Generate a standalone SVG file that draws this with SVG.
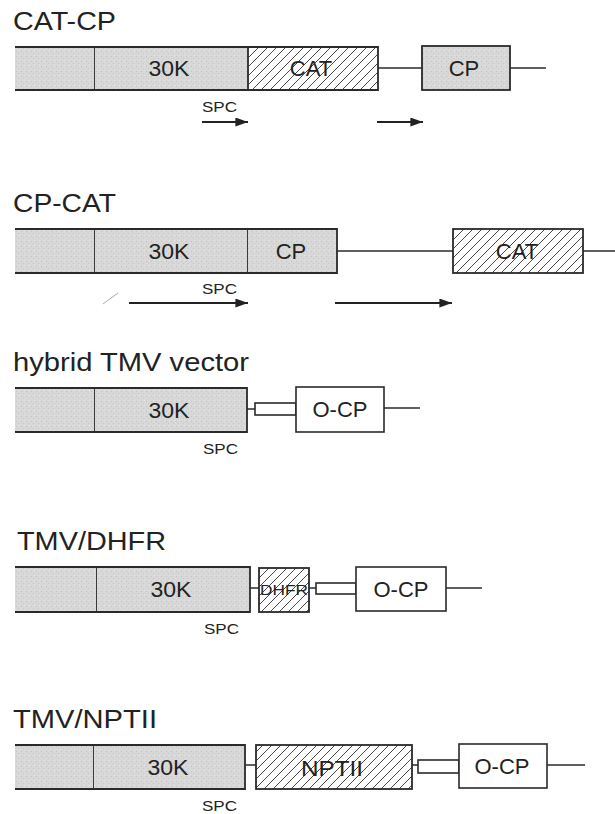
<svg xmlns="http://www.w3.org/2000/svg" width="615" height="814" viewBox="0 0 615 814">
<defs>
<pattern id="hatch" patternUnits="userSpaceOnUse" width="9" height="9">
<path d="M0,9 L9,0 M-1,1 L1,-1 M8,10 L10,8" stroke="#333" stroke-width="0.9"/>
</pattern>
<pattern id="stip" patternUnits="userSpaceOnUse" width="5" height="5">
<rect width="5" height="5" fill="#d8d8d8"/>
<rect x="1" y="1" width="1" height="1" fill="#c2c2c2"/>
<rect x="3" y="3" width="1" height="1" fill="#c8c8c8"/>
<rect x="4" y="0" width="1" height="1" fill="#e4e4e4"/>
</pattern>
<marker id="ah" viewBox="0 0 14 10" refX="14" refY="5" markerWidth="14" markerHeight="9" markerUnits="userSpaceOnUse" orient="auto">
<path d="M0,0 L14,5 L0,10 Z" fill="#222"/>
</marker>
<style>
.t{font-family:"Liberation Sans",Arial,sans-serif;fill:#222}
.title{font-size:26px}
.lbl{font-size:22px;text-anchor:middle}
.spc{font-size:14.5px}
.g{fill:url(#stip);stroke:none}
.h{fill:url(#hatch);stroke:none}
.w{fill:#fff;stroke:#2a2a2a;stroke-width:1.6}
.b{fill:none;stroke:#2a2a2a;stroke-width:1.8}
.c{fill:none;stroke:#2a2a2a;stroke-width:1.5}
.ar{fill:none;stroke:#222;stroke-width:2;marker-end:url(#ah)}
</style>
</defs>
<rect width="615" height="814" fill="#fff"/>

<!-- Row 1: CAT-CP -->
<text class="t title" x="13" y="30" textLength="103" lengthAdjust="spacingAndGlyphs">CAT-CP</text>
<g id="r1-5p">
<rect class="g" x="15" y="47" width="80" height="43"/>
<path class="b" d="M15,47 H95 V90 H15"/>
</g>
<g id="r1-30k">
<rect class="g" x="95" y="47" width="153" height="43"/>
<path class="b" d="M95,47 H248 V90 H95"/>
<text class="t lbl" x="169" y="76" textLength="41" lengthAdjust="spacingAndGlyphs">30K</text>
</g>
<g id="r1-cat">
<rect class="h" x="248" y="47" width="130" height="43"/>
<path class="b" d="M248,47 H378 V90 H248"/>
<text class="t lbl" x="311" y="76">CAT</text>
</g>
<g id="r1-cp">
<rect class="g" x="422" y="46" width="88" height="44"/>
<rect class="b" x="422" y="46" width="88" height="44"/>
<text class="t lbl" x="464" y="76">CP</text>
</g>
<text class="t spc" x="202" y="112" textLength="35" lengthAdjust="spacingAndGlyphs">SPC</text>

<!-- Row 2: CP-CAT -->
<text class="t title" x="13" y="212" textLength="103" lengthAdjust="spacingAndGlyphs">CP-CAT</text>
<g id="r2-5p">
<rect class="g" x="15" y="229" width="80" height="44"/>
<path class="b" d="M15,229 H95 V273 H15"/>
</g>
<g id="r2-30k">
<rect class="g" x="95" y="229" width="153" height="44"/>
<path class="b" d="M95,229 H248 V273 H95"/>
<text class="t lbl" x="169" y="259" textLength="41" lengthAdjust="spacingAndGlyphs">30K</text>
</g>
<g id="r2-cp">
<rect class="g" x="248" y="229" width="89" height="44"/>
<path class="b" d="M248,229 H337 V273 H248"/>
<text class="t lbl" x="291" y="259">CP</text>
</g>
<g id="r2-cat">
<rect class="h" x="453" y="229" width="130" height="44"/>
<rect class="b" x="453" y="229" width="130" height="44"/>
<text class="t lbl" x="517" y="259">CAT</text>
</g>
<text class="t spc" x="202" y="294" textLength="35" lengthAdjust="spacingAndGlyphs">SPC</text>

<!-- Row 3: hybrid TMV vector -->
<text class="t title" x="13" y="371" textLength="236" lengthAdjust="spacingAndGlyphs">hybrid TMV vector</text>
<g id="r3-5p">
<rect class="g" x="15" y="388" width="80" height="44"/>
<path class="b" d="M15,388 H95 V432 H15"/>
</g>
<g id="r3-30k">
<rect class="g" x="95" y="388" width="152" height="44"/>
<path class="b" d="M95,388 H247 V432 H95"/>
<text class="t lbl" x="169" y="418" textLength="41" lengthAdjust="spacingAndGlyphs">30K</text>
</g>
<g id="r3-link">
<rect class="w" x="255" y="403" width="41" height="12"/>
</g>
<g id="r3-ocp">
<rect class="w" x="296" y="387" width="88" height="45"/>
<text class="t lbl" x="340" y="417">O-CP</text>
</g>
<text class="t spc" x="203" y="454" textLength="35" lengthAdjust="spacingAndGlyphs">SPC</text>

<!-- Row 4: TMV/DHFR -->
<text class="t title" x="17" y="550" textLength="149" lengthAdjust="spacingAndGlyphs">TMV/DHFR</text>
<g id="r4-5p">
<rect class="g" x="15" y="567" width="82" height="45"/>
<path class="b" d="M15,567 H97 V612 H15"/>
</g>
<g id="r4-30k">
<rect class="g" x="97" y="567" width="153" height="45"/>
<path class="b" d="M97,567 H250 V612 H97"/>
<text class="t lbl" x="171" y="597" textLength="41" lengthAdjust="spacingAndGlyphs">30K</text>
</g>
<g id="r4-dhfr">
<rect class="h" x="259" y="568" width="50" height="44"/>
<rect class="b" x="259" y="568" width="50" height="44"/>
<text class="t" x="260" y="595" font-size="15" textLength="48" lengthAdjust="spacingAndGlyphs">DHFR</text>
</g>
<g id="r4-link">
<rect class="w" x="316" y="583" width="40" height="11"/>
</g>
<g id="r4-ocp">
<rect class="w" x="356" y="567" width="90" height="44"/>
<text class="t lbl" x="401" y="597">O-CP</text>
</g>
<text class="t spc" x="204" y="634" textLength="35" lengthAdjust="spacingAndGlyphs">SPC</text>

<!-- Row 5: TMV/NPTII -->
<text class="t title" x="13" y="728" textLength="144" lengthAdjust="spacingAndGlyphs">TMV/NPTII</text>
<g id="r5-5p">
<rect class="g" x="15" y="745" width="79" height="44"/>
<path class="b" d="M15,745 H94 V789 H15"/>
</g>
<g id="r5-30k">
<rect class="g" x="94" y="745" width="151" height="44"/>
<path class="b" d="M94,745 H245 V789 H94"/>
<text class="t lbl" x="168" y="775" textLength="41" lengthAdjust="spacingAndGlyphs">30K</text>
</g>
<g id="r5-nptii">
<rect class="h" x="256" y="745" width="156" height="44"/>
<rect class="b" x="256" y="745" width="156" height="44"/>
<text class="t lbl" x="332" y="776" font-size="23" textLength="62" lengthAdjust="spacingAndGlyphs">NPTII</text>
</g>
<g id="r5-link">
<rect class="w" x="418" y="760" width="41" height="13"/>
</g>
<g id="r5-ocp">
<rect class="w" x="459" y="744" width="88" height="44"/>
<text class="t lbl" x="502" y="774">O-CP</text>
</g>
<text class="t spc" x="202" y="811" textLength="35" lengthAdjust="spacingAndGlyphs">SPC</text>

<g id="connectors">
<line class="c" x1="378" y1="68" x2="422" y2="68"/>
<line class="c" x1="510" y1="68" x2="546" y2="68"/>
<line class="ar" x1="202" y1="122" x2="248" y2="122"/>
<line class="ar" x1="377" y1="122" x2="423" y2="122"/>
<line class="c" x1="337" y1="251" x2="453" y2="251"/>
<line class="c" x1="583" y1="251" x2="615" y2="251"/>
<line x1="103" y1="304" x2="118" y2="293" stroke="#aaa" stroke-width="1"/>
<line class="ar" x1="129" y1="303" x2="248" y2="303"/>
<line class="ar" x1="335" y1="303" x2="452" y2="303"/>
<line class="c" x1="247" y1="409" x2="255" y2="409"/>
<line class="c" x1="384" y1="408" x2="420" y2="408"/>
<line class="c" x1="250" y1="588" x2="259" y2="588"/>
<line class="c" x1="309" y1="588" x2="316" y2="588"/>
<line class="c" x1="446" y1="588" x2="482" y2="588"/>
<line class="c" x1="245" y1="765" x2="256" y2="765"/>
<line class="c" x1="412" y1="765" x2="418" y2="765"/>
<line class="c" x1="547" y1="765" x2="585" y2="765"/>
</g>
</svg>
